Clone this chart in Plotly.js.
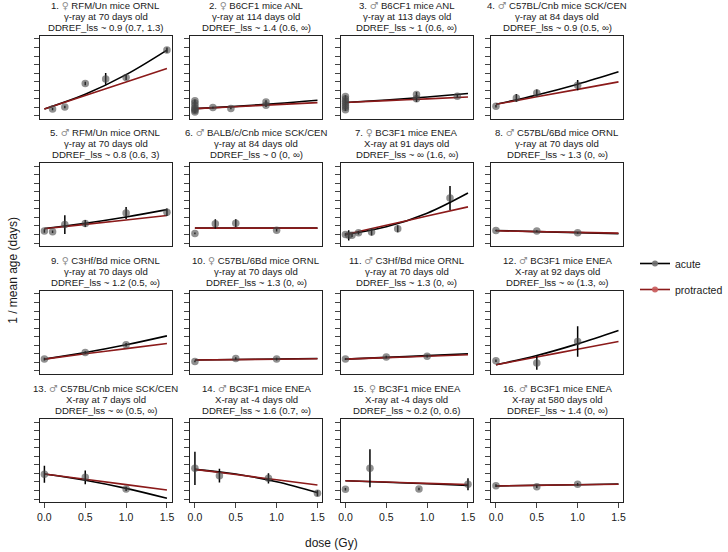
<!DOCTYPE html>
<html>
<head>
<meta charset="utf-8">
<script src="https://cdn.plot.ly/plotly-3.0.1.min.js"></script>
<style>html,body{margin:0;padding:0;background:#fff;}#chart{width:728px;height:552px;}</style>
</head>
<body>
<div id="chart"></div>
<script>
// ---- data ----
const panelSex = ["♀","♀","♂","♂","♂","♂","♀","♂","♀","♀","♂","♂","♂","♂","♀","♂"];
const panelStrain = ["RFM/Un mice ORNL","B6CF1 mice ANL","B6CF1 mice ANL","C57BL/Cnb mice SCK/CEN",
  "RFM/Un mice ORNL","BALB/c/Cnb mice SCK/CEN","BC3F1 mice ENEA","C57BL/6Bd mice ORNL",
  "C3Hf/Bd mice ORNL","C57BL/6Bd mice ORNL","C3Hf/Bd mice ORNL","BC3F1 mice ENEA",
  "C57BL/Cnb mice SCK/CEN","BC3F1 mice ENEA","BC3F1 mice ENEA","BC3F1 mice ENEA"];
const panelExposure = ["γ-ray at 70 days old","γ-ray at 114 days old","γ-ray at 113 days old","γ-ray at 84 days old",
  "γ-ray at 70 days old","γ-ray at 84 days old","X-ray at 91 days old","γ-ray at 70 days old",
  "γ-ray at 70 days old","γ-ray at 70 days old","γ-ray at 70 days old","X-ray at 92 days old",
  "X-ray at 7 days old","X-ray at -4 days old","X-ray at -4 days old","X-ray at 580 days old"];
const panelDdref = ["0.9 (0.7, 1.3)","1.4 (0.6, ∞)","1 (0.6, ∞)","0.9 (0.5, ∞)",
  "0.8 (0.6, 3)","0 (0, ∞)","∞ (1.6, ∞)","1.3 (0, ∞)",
  "1.2 (0.5, ∞)","1.3 (0, ∞)","1.3 (0, ∞)","∞ (1.3, ∞)",
  "∞ (0.5, ∞)","1.6 (0.7, ∞)","0.2 (0, 0.6)","1.4 (0, ∞)"];

const pointDose = [
  [0.1,0.25,0.5,0.75,1.0,1.5],
  [0,0,0,0,0,0,0,0.22,0.44,0.87,0.87],
  [0,0,0,0,0,0,0,0.87,0.87,1.37],
  [0,0.25,0.5,1.0],
  [0,0.1,0.25,0.5,1.0,1.5],
  [0,0.25,0.5,1.0],
  [0,0.04,0.08,0.16,0.32,0.64,1.28],
  [0,0.5,1.0],
  [0,0.5,1.0],
  [0,0.5,1.0],
  [0,0.5,1.0],
  [0,0.5,1.0],
  [0,0.5,1.0],
  [0,0.3,0.9,1.5],
  [0,0.3,0.9,1.5],
  [0,0.5,1.0]
];
const pointValue = [
  [0.79,1.02,3.77,4.32,4.48,7.70],
  [0.45,0.6,0.75,0.9,1.2,1.5,1.75,0.95,0.86,1.22,1.6],
  [0.7,0.95,1.2,1.45,1.7,1.95,2.25,2.0,2.48,2.28],
  [1.10,2.09,2.67,3.58],
  [1.40,1.32,2.17,2.29,3.53,3.61],
  [1.12,2.25,2.33,1.51],
  [1.01,0.9,0.9,1.21,1.28,1.67,5.28],
  [1.47,1.40,1.20],
  [1.36,2.14,3.04],
  [1.09,1.44,1.36],
  [1.36,1.6,1.71],
  [1.17,0.9,3.43],
  [2.9,2.54,1.18],
  [3.6,2.74,2.43,0.67],
  [1.14,3.6,1.18,1.73],
  [1.57,1.45,1.72]
];
const pointError = [
  [0.15,0.15,0.2,0.7,0.3,0.3],
  [0.15,0.15,0.15,0.15,0.15,0.15,0.15,0.1,0.1,0.2,0.2],
  [0.15,0.15,0.15,0.15,0.15,0.15,0.15,0.4,0.3,0.15],
  [0.15,0.45,0.4,0.6],
  [0.2,0.15,1.1,0.4,0.7,0.45],
  [0.1,0.55,0.45,0.15],
  [0.15,0.6,0.2,0.2,0.4,0.4,1.4],
  [0.1,0.1,0.1],
  [0.15,0.15,0.2],
  [0.1,0.15,0.15],
  [0.1,0.15,0.15],
  [0.15,0.8,1.8],
  [1.0,0.8,0.25],
  [1.95,0.8,0.6,0.35],
  [0.15,2.23,0.15,0.7],
  [0.15,0.15,0.15]
];

const lineDose = [0, 0.5, 1.0, 1.5];
const acuteFit = [
  [0.8,2.52,4.82,7.7],
  [0.83,1.1,1.42,1.81],
  [1.55,1.85,2.2,2.6],
  [1.34,2.43,3.7,5.15],
  [1.71,2.32,3.06,3.92],
  [1.75,1.75,1.75,1.75],
  [1.0,1.9,3.5,5.87],
  [1.47,1.34,1.22,1.09],
  [1.36,2.13,3.04,4.09],
  [1.25,1.31,1.38,1.44],
  [1.36,1.56,1.77,1.99],
  [0.7,1.78,3.15,4.71],
  [2.94,2.2,1.25,0.08],
  [3.48,2.93,2.02,0.75],
  [2.15,1.97,1.79,1.6],
  [1.53,1.61,1.68,1.76]
];
const protractedFit = [
  [0.8,2.38,3.96,5.54],
  [0.83,1.06,1.3,1.53],
  [1.55,1.77,1.98,2.2],
  [1.34,2.22,3.09,3.97],
  [1.67,2.19,2.70,3.22],
  [1.75,1.75,1.75,1.75],
  [1.0,2.08,3.16,4.24],
  [1.43,1.34,1.25,1.16],
  [1.36,1.98,2.59,3.2],
  [1.25,1.3,1.35,1.4],
  [1.36,1.53,1.7,1.87],
  [0.7,1.61,2.52,3.43],
  [2.94,2.31,1.69,1.06],
  [3.48,2.87,2.25,1.64],
  [2.15,1.99,1.84,1.7],
  [1.53,1.6,1.67,1.74]
];
const xTickVals = [0, 0.5, 1.0, 1.5];
const xTickText = ["0.0", "0.5", "1.0", "1.5"];
const yTickVals = [0,1,2,3,4,5,6,7,8,9];
const legendNames = ["acute", "protracted"];

// ---- layout geometry ----
const W = 728, H = 552;
const colLeft = [40, 192.4, 344.8, 497.2];
const panelW = 134;
const rowTop = [36, 163.3, 291, 419.3];
const panelH = 82.7;
const FONT = "Liberation Sans, Arial, Helvetica, sans-serif";
const ACUTE = "#000000";
const PROT = "#8b1a1a";

const traces = [];
const layout = {
  width: W, height: H,
  margin: {l: 0, r: 0, t: 0, b: 0},
  paper_bgcolor: "#ffffff", plot_bgcolor: "#ffffff",
  font: {family: FONT, size: 10, color: "#1a1a1a"},
  showlegend: true,
  legend: {x: 643/W, y: 1 - 249/H, xanchor: "left", yanchor: "top",
           font: {family: FONT, size: 10.5, color: "#1a1a1a"},
           tracegroupgap: 7, traceorder: "grouped", bgcolor: "rgba(0,0,0,0)"},
  annotations: [],
  shapes: []
};

for (let i = 0; i < 16; i++) {
  const r = Math.floor(i / 4), c = i % 4;
  const n = i + 1;
  const xa = "x" + (n === 1 ? "" : n), ya = "y" + (n === 1 ? "" : n);
  const xkey = "xaxis" + (n === 1 ? "" : n), ykey = "yaxis" + (n === 1 ? "" : n);
  const bottom = r === 3;
  layout[xkey] = {
    domain: [colLeft[c] / W, (colLeft[c] + panelW) / W],
    anchor: ya, range: [-0.06, 1.56],
    showgrid: false, zeroline: false,
    showline: true, mirror: true, linecolor: "#222", linewidth: 1,
    ticks: bottom ? "outside" : "", ticklen: 5, tickcolor: "#444", tickwidth: 1,
    tickvals: xTickVals, ticktext: xTickText,
    showticklabels: bottom,
    tickfont: {family: FONT, size: 10.5, color: "#1a1a1a"}
  };
  layout[ykey] = {
    domain: [1 - (rowTop[r] + panelH) / H, 1 - rowTop[r] / H],
    anchor: xa, range: [-0.35, 9.35],
    showgrid: false, zeroline: false,
    showline: true, mirror: true, linecolor: "#222", linewidth: 1,
    ticks: "outside", ticklen: 5, tickcolor: "#444", tickwidth: 1,
    tickvals: yTickVals, showticklabels: false
  };

  traces.push({
    x: lineDose, y: acuteFit[i], xaxis: xa, yaxis: ya,
    mode: "lines", line: {color: ACUTE, width: 1.6, shape: "spline"},
    showlegend: false, hoverinfo: "skip"
  });
  traces.push({
    x: lineDose, y: protractedFit[i], xaxis: xa, yaxis: ya,
    mode: "lines", line: {color: PROT, width: 1.6, shape: "spline"},
    showlegend: false, hoverinfo: "skip"
  });
  traces.push({
    x: pointDose[i], y: pointValue[i], xaxis: xa, yaxis: ya,
    mode: "markers",
    marker: {color: "rgba(70,70,70,0.6)", size: 7.5, line: {width: 0}},
    error_y: {type: "data", array: pointError[i], visible: true,
              color: "#000", thickness: 1.5, width: 0},
    showlegend: false, hoverinfo: "skip"
  });

  const cx = (colLeft[c] + panelW / 2) / W;
  const lines = [
    n + ". <span style=\"font-family:'DejaVu Sans';color:#8a8a8a\">" + panelSex[i] + "</span> " + panelStrain[i],
    panelExposure[i],
    "DDREF_lss ~ " + panelDdref[i]
  ];
  const offs = [30.4, 19.6, 8.8];
  for (let k = 0; k < 3; k++) {
    layout.annotations.push({
      xref: "paper", yref: "paper", x: cx, y: 1 - (rowTop[r] - offs[k]) / H,
      xanchor: "center", yanchor: "middle", showarrow: false,
      text: lines[k], font: {family: FONT, size: 9.6, color: "#1a1a1a"}
    });
  }
}

// legend entries
traces.push({x: [null], y: [null], mode: "lines+markers", name: legendNames[0],
  legendgroup: "a", line: {color: ACUTE, width: 1.6},
  marker: {color: "rgba(110,110,110,0.9)", size: 6}});
traces.push({x: [null], y: [null], mode: "lines+markers", name: legendNames[1],
  legendgroup: "p", line: {color: PROT, width: 1.6},
  marker: {color: "rgba(200,90,90,0.9)", size: 6}});

layout.annotations.push({
  xref: "paper", yref: "paper", x: 336 / W, y: 1 - 543 / H,
  xanchor: "center", yanchor: "middle", showarrow: false,
  text: "dose (Gy)", font: {family: FONT, size: 12, color: "#1a1a1a"}
});
layout.annotations.push({
  xref: "paper", yref: "paper", x: 13 / W, y: 1 - 270 / H,
  xanchor: "center", yanchor: "middle", showarrow: false, textangle: -90,
  text: "1 / mean age (days)", font: {family: FONT, size: 12, color: "#1a1a1a"}
});

Plotly.newPlot("chart", traces, layout, {staticPlot: true, displayModeBar: false});
</script>
</body>
</html>
